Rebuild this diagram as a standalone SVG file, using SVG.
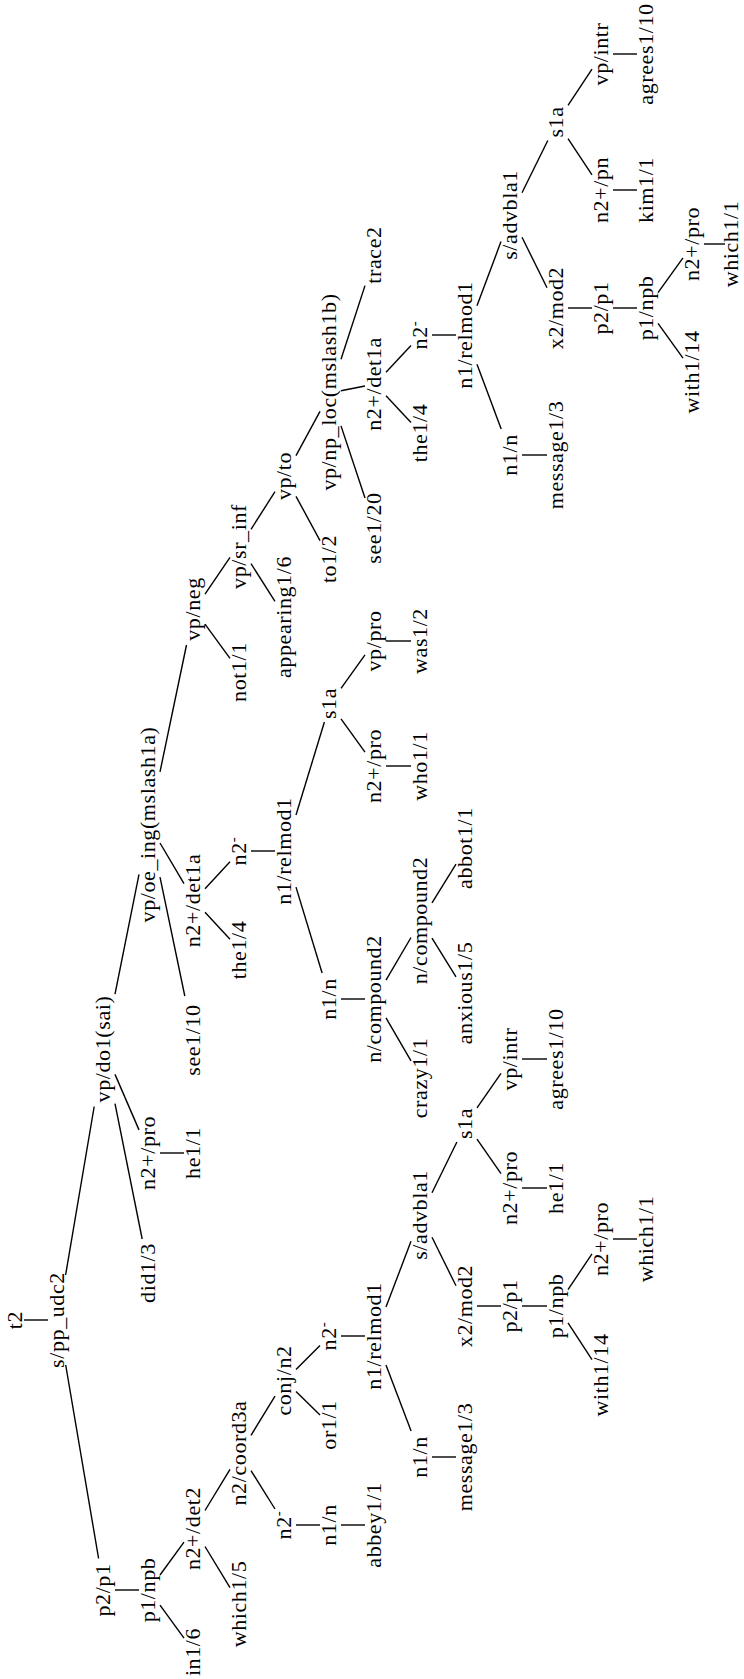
<svg xmlns="http://www.w3.org/2000/svg" width="744" height="1679" viewBox="0 0 744 1679">
<style>
text{font-family:"Liberation Serif","Times New Roman",serif;font-size:22px;letter-spacing:0.6px;text-anchor:middle;fill:#000}
.e line{stroke:#000;stroke-width:1.4;stroke-linecap:butt}
.sup{font-size:15px}
</style>
<rect width="744" height="1679" fill="#fff"/>
<g class="e" id="connectors">
<line x1="24" y1="1320" x2="48" y2="1320"/>
<line x1="65.7" y1="1365" x2="98.6" y2="1558.5"/>
<line x1="65.6" y1="1275" x2="94.2" y2="1106.5"/>
<line x1="115" y1="1590" x2="139" y2="1590"/>
<line x1="160" y1="1605.1" x2="184" y2="1638.2"/>
<line x1="160" y1="1575" x2="184" y2="1542.2"/>
<line x1="205" y1="1546.5" x2="230" y2="1587.6"/>
<line x1="205" y1="1510.5" x2="230" y2="1469.4"/>
<line x1="251" y1="1470.6" x2="275" y2="1509"/>
<line x1="251" y1="1435.3" x2="275" y2="1396.1"/>
<line x1="296" y1="1525" x2="320" y2="1525"/>
<line x1="341" y1="1525" x2="365" y2="1525"/>
<line x1="296" y1="1391.4" x2="320" y2="1415.1"/>
<line x1="296" y1="1369.6" x2="320" y2="1345.4"/>
<line x1="341" y1="1336" x2="365" y2="1336"/>
<line x1="386" y1="1364.9" x2="411.1" y2="1431"/>
<line x1="432" y1="1457" x2="456" y2="1457"/>
<line x1="386" y1="1307.1" x2="411" y2="1241.3"/>
<line x1="432" y1="1192.7" x2="456.9" y2="1142"/>
<line x1="432" y1="1237.2" x2="456" y2="1285.8"/>
<line x1="477" y1="1306" x2="501" y2="1306"/>
<line x1="522" y1="1306" x2="547" y2="1306"/>
<line x1="568" y1="1289.6" x2="592" y2="1253.9"/>
<line x1="568" y1="1322.9" x2="592" y2="1359.7"/>
<line x1="613" y1="1239" x2="637" y2="1239"/>
<line x1="477" y1="1107.8" x2="501" y2="1073.3"/>
<line x1="477" y1="1139.2" x2="501" y2="1173.7"/>
<line x1="522" y1="1059" x2="547" y2="1059"/>
<line x1="522" y1="1188" x2="547" y2="1188"/>
<line x1="115" y1="1103.7" x2="142.2" y2="1239"/>
<line x1="115" y1="1074.4" x2="139" y2="1129.9"/>
<line x1="115" y1="994.2" x2="139" y2="874.3"/>
<line x1="160" y1="1153" x2="184" y2="1153"/>
<line x1="160" y1="877.1" x2="184.8" y2="996"/>
<line x1="160" y1="843" x2="184" y2="883.6"/>
<line x1="160" y1="771.9" x2="186.5" y2="645"/>
<line x1="205" y1="912.3" x2="230" y2="939.3"/>
<line x1="205" y1="888.7" x2="230" y2="861.7"/>
<line x1="251" y1="851" x2="275" y2="851"/>
<line x1="296" y1="887.1" x2="322.1" y2="973"/>
<line x1="296" y1="815" x2="324.4" y2="722"/>
<line x1="341" y1="999" x2="365" y2="999"/>
<line x1="386" y1="1017.9" x2="411" y2="1060.9"/>
<line x1="386" y1="980.2" x2="411" y2="937.5"/>
<line x1="432" y1="938.2" x2="456" y2="976.9"/>
<line x1="432" y1="902.8" x2="456" y2="864.1"/>
<line x1="341" y1="718.8" x2="365" y2="752.1"/>
<line x1="341" y1="688.3" x2="365" y2="654.9"/>
<line x1="386" y1="766" x2="411" y2="766"/>
<line x1="386" y1="641" x2="411" y2="641"/>
<line x1="205" y1="624.1" x2="230" y2="658.3"/>
<line x1="205" y1="594.1" x2="230" y2="557.4"/>
<line x1="251" y1="563.7" x2="275" y2="601.3"/>
<line x1="251" y1="529.3" x2="275" y2="491.7"/>
<line x1="296" y1="496.3" x2="320" y2="540.6"/>
<line x1="296" y1="455.7" x2="320" y2="411.4"/>
<line x1="341" y1="425.9" x2="365" y2="498"/>
<line x1="341" y1="390.8" x2="365" y2="386"/>
<line x1="341" y1="359.3" x2="365" y2="285.6"/>
<line x1="386" y1="395.7" x2="411" y2="422.4"/>
<line x1="386" y1="372.3" x2="411" y2="345.6"/>
<line x1="432" y1="335" x2="456" y2="335"/>
<line x1="477" y1="364.3" x2="501.2" y2="429"/>
<line x1="477" y1="305.7" x2="501" y2="241.6"/>
<line x1="522" y1="455" x2="547" y2="455"/>
<line x1="522" y1="192.8" x2="547.8" y2="140.5"/>
<line x1="522" y1="237.2" x2="547" y2="287.8"/>
<line x1="568" y1="308" x2="592" y2="308"/>
<line x1="613" y1="308" x2="637" y2="308"/>
<line x1="658" y1="292.7" x2="683" y2="257.9"/>
<line x1="658" y1="323.3" x2="683" y2="358.1"/>
<line x1="704" y1="244" x2="725" y2="244"/>
<line x1="568" y1="105.4" x2="592" y2="69.1"/>
<line x1="568" y1="138.6" x2="592" y2="174.9"/>
<line x1="613" y1="54" x2="637" y2="54"/>
<line x1="613" y1="190" x2="637" y2="190"/>
</g>
<g id="n1"><text transform="translate(22 1320) rotate(-90)">t2</text></g>
<g id="n2"><text transform="translate(64 1320) rotate(-90)">s/pp_udc2</text></g>
<g id="n3"><text transform="translate(110 1590) rotate(-90)">p2/p1</text></g>
<g id="n4"><text transform="translate(155 1590) rotate(-90)">p1/npb</text></g>
<g id="n5"><text transform="translate(200 1652) rotate(-90)">in1/6</text></g>
<g id="n6"><text transform="translate(200 1528.5) rotate(-90)">n2+/det2</text></g>
<g id="n7"><text transform="translate(246 1604) rotate(-90)">which1/5</text></g>
<g id="n8"><text transform="translate(246 1453) rotate(-90)">n2/coord3a</text></g>
<g id="n9"><text transform="translate(291 1525) rotate(-90)">n2<tspan class="sup" dy="-8">-</tspan></text></g>
<g id="n10"><text transform="translate(336 1525) rotate(-90)">n1/n</text></g>
<g id="n11"><text transform="translate(381 1525) rotate(-90)">abbey1/1</text></g>
<g id="n12"><text transform="translate(291 1380.5) rotate(-90)">conj/n2</text></g>
<g id="n13"><text transform="translate(336 1425) rotate(-90)">or1/1</text></g>
<g id="n14"><text transform="translate(336 1336) rotate(-90)">n2<tspan class="sup" dy="-8">-</tspan></text></g>
<g id="n15"><text transform="translate(381 1336) rotate(-90)">n1/relmod1</text></g>
<g id="n16"><text transform="translate(427 1457) rotate(-90)">n1/n</text></g>
<g id="n17"><text transform="translate(472 1457) rotate(-90)">message1/3</text></g>
<g id="n18"><text transform="translate(427 1215) rotate(-90)">s/advbla1</text></g>
<g id="n19"><text transform="translate(472 1306) rotate(-90)">x2/mod2</text></g>
<g id="n20"><text transform="translate(517 1306) rotate(-90)">p2/p1</text></g>
<g id="n21"><text transform="translate(563 1306) rotate(-90)">p1/npb</text></g>
<g id="n22"><text transform="translate(608 1375) rotate(-90)">with1/14</text></g>
<g id="n23"><text transform="translate(608 1239) rotate(-90)">n2+/pro</text></g>
<g id="n24"><text transform="translate(653 1239) rotate(-90)">which1/1</text></g>
<g id="n25"><text transform="translate(472 1123.5) rotate(-90)">s1a</text></g>
<g id="n26"><text transform="translate(517 1188) rotate(-90)">n2+/pro</text></g>
<g id="n27"><text transform="translate(563 1188) rotate(-90)">he1/1</text></g>
<g id="n28"><text transform="translate(517 1059) rotate(-90)">vp/intr</text></g>
<g id="n29"><text transform="translate(563 1059) rotate(-90)">agrees1/10</text></g>
<g id="n30"><text transform="translate(110 1049) rotate(-90)">vp/do1(sai)</text></g>
<g id="n31"><text transform="translate(155 1273) rotate(-90)">did1/3</text></g>
<g id="n32"><text transform="translate(155 1153) rotate(-90)">n2+/pro</text></g>
<g id="n33"><text transform="translate(200 1153) rotate(-90)">he1/1</text></g>
<g id="n34"><text transform="translate(155 824.5) rotate(-90)">vp/oe_ing(mslash1a)</text></g>
<g id="n35"><text transform="translate(200 1040) rotate(-90)">see1/10</text></g>
<g id="n36"><text transform="translate(200 900.5) rotate(-90)">n2+/det1a</text></g>
<g id="n37"><text transform="translate(246 950) rotate(-90)">the1/4</text></g>
<g id="n38"><text transform="translate(246 851) rotate(-90)">n2<tspan class="sup" dy="-8">-</tspan></text></g>
<g id="n39"><text transform="translate(291 851) rotate(-90)">n1/relmod1</text></g>
<g id="n40"><text transform="translate(336 999) rotate(-90)">n1/n</text></g>
<g id="n41"><text transform="translate(381 999) rotate(-90)">n/compound2</text></g>
<g id="n42"><text transform="translate(427 1078) rotate(-90)">crazy1/1</text></g>
<g id="n43"><text transform="translate(427 920.5) rotate(-90)">n/compound2</text></g>
<g id="n44"><text transform="translate(472 993) rotate(-90)">anxious1/5</text></g>
<g id="n45"><text transform="translate(472 848) rotate(-90)">abbot1/1</text></g>
<g id="n46"><text transform="translate(336 703.5) rotate(-90)">s1a</text></g>
<g id="n47"><text transform="translate(381 766) rotate(-90)">n2+/pro</text></g>
<g id="n48"><text transform="translate(427 766) rotate(-90)">who1/1</text></g>
<g id="n49"><text transform="translate(381 641) rotate(-90)">vp/pro</text></g>
<g id="n50"><text transform="translate(427 641) rotate(-90)">was1/2</text></g>
<g id="n51"><text transform="translate(200 609) rotate(-90)">vp/neg</text></g>
<g id="n52"><text transform="translate(246 672) rotate(-90)">not1/1</text></g>
<g id="n53"><text transform="translate(246 546.5) rotate(-90)">vp/sr_inf</text></g>
<g id="n54"><text transform="translate(291 617) rotate(-90)">appearing1/6</text></g>
<g id="n55"><text transform="translate(291 476) rotate(-90)">vp/to</text></g>
<g id="n56"><text transform="translate(336 559) rotate(-90)">to1/2</text></g>
<g id="n57"><text transform="translate(336 392) rotate(-90)">vp/np_loc(mslash1b)</text></g>
<g id="n58"><text transform="translate(381 528) rotate(-90)">see1/20</text></g>
<g id="n59"><text transform="translate(381 384) rotate(-90)">n2+/det1a</text></g>
<g id="n60"><text transform="translate(427 433) rotate(-90)">the1/4</text></g>
<g id="n61"><text transform="translate(427 335) rotate(-90)">n2<tspan class="sup" dy="-8">-</tspan></text></g>
<g id="n62"><text transform="translate(472 335) rotate(-90)">n1/relmod1</text></g>
<g id="n63"><text transform="translate(517 455) rotate(-90)">n1/n</text></g>
<g id="n64"><text transform="translate(563 455) rotate(-90)">message1/3</text></g>
<g id="n65"><text transform="translate(517 215) rotate(-90)">s/advbla1</text></g>
<g id="n66"><text transform="translate(563 308) rotate(-90)">x2/mod2</text></g>
<g id="n67"><text transform="translate(608 308) rotate(-90)">p2/p1</text></g>
<g id="n68"><text transform="translate(653 308) rotate(-90)">p1/npb</text></g>
<g id="n69"><text transform="translate(699 372) rotate(-90)">with1/14</text></g>
<g id="n70"><text transform="translate(699 244) rotate(-90)">n2+/pro</text></g>
<g id="n71"><text transform="translate(738 244) rotate(-90)">which1/1</text></g>
<g id="n72"><text transform="translate(563 122) rotate(-90)">s1a</text></g>
<g id="n73"><text transform="translate(608 190) rotate(-90)">n2+/pn</text></g>
<g id="n74"><text transform="translate(653 190) rotate(-90)">kim1/1</text></g>
<g id="n75"><text transform="translate(608 54) rotate(-90)">vp/intr</text></g>
<g id="n76"><text transform="translate(653 54) rotate(-90)">agrees1/10</text></g>
<g id="n77"><text transform="translate(381 255) rotate(-90)">trace2</text></g>
</svg>
